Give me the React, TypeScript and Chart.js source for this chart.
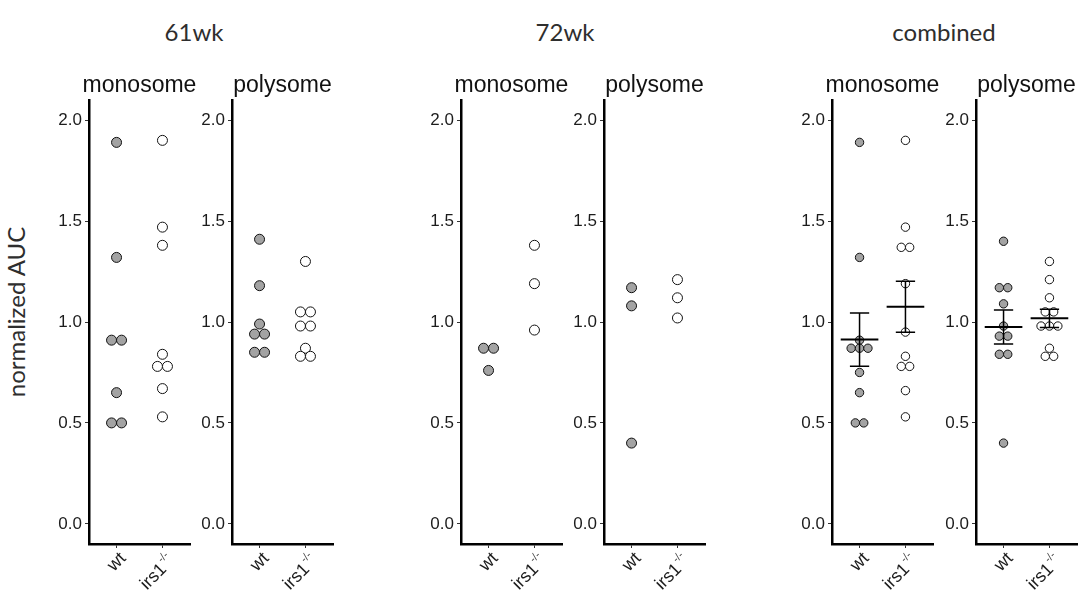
import React, { useEffect, useRef } from "react";
import { Chart, registerables } from "chart.js";

Chart.register(...registerables);

// ---------- data ----------
const groupTitles = ["61wk", "72wk", "combined"];
const fractionTitles = ["monosome", "polysome"];
const categories = ["wt", "irs1"];
const categorySuperscripts = ["", "-/-"];
const yTickValues = [0, 0.5, 1.0, 1.5, 2.0];
const yAxisTitle = "normalized AUC";

const wk61MonoWt = [1.89, 1.32, 0.91, 0.91, 0.65, 0.5, 0.5];
const wk61MonoIrs1 = [1.9, 1.47, 1.38, 0.84, 0.78, 0.78, 0.67, 0.53];
const wk61PolyWt = [1.41, 1.18, 0.99, 0.94, 0.94, 0.85, 0.85];
const wk61PolyIrs1 = [1.3, 1.05, 1.05, 0.98, 0.98, 0.87, 0.83, 0.83];

const wk72MonoWt = [0.87, 0.87, 0.76];
const wk72MonoIrs1 = [1.38, 1.19, 0.96];
const wk72PolyWt = [1.17, 1.08, 0.4];
const wk72PolyIrs1 = [1.21, 1.12, 1.02];

const combMonoWt = [1.89, 1.32, 0.91, 0.87, 0.87, 0.87, 0.75, 0.65, 0.5, 0.5];
const combMonoIrs1 = [1.9, 1.47, 1.37, 1.37, 1.19, 0.95, 0.83, 0.78, 0.78, 0.66, 0.53];
const combPolyWt = [1.4, 1.17, 1.17, 1.09, 0.98, 0.93, 0.93, 0.84, 0.84, 0.4];
const combPolyIrs1 = [1.3, 1.21, 1.12, 1.05, 1.05, 0.98, 0.98, 0.98, 0.87, 0.83, 0.83];

// ---------- layout / style ----------
const X_MIN = 0.4;
const X_MAX = 2.6;
const Y_MIN = -0.1;
const Y_MAX = 2.1;
const PLOT_TOP = 100;
const PLOT_BOTTOM = 544;
const PLOT_W = 101;
const CANVAS_H = 596;
const Y_AXIS_W = 52;
const RIGHT_PAD = 8;
const CANVAS_W = Y_AXIS_W + PLOT_W + RIGHT_PAD;
const ARIAL = '"Liberation Sans", Arial, Helvetica, sans-serif';
const LATO = 'Lato, "Open Sans", sans-serif';
const WT_FILL = "#a3a3a3";
const KO_FILL = "#ffffff";
const INK = "#111111";
const TEXT = "#1c1c1c";
const TITLE_TEXT = "#2e2e2e";

const panelAxisX = [89, 232, 461, 604, 832, 976];
const groupCenterX = [194, 565, 944];

type PanelDef = {
  group: number;
  fraction: number;
  wt: number[];
  ko: number[];
  stats: boolean;
  radius: number;
};

const panels: PanelDef[] = [
  { group: 0, fraction: 0, wt: wk61MonoWt, ko: wk61MonoIrs1, stats: false, radius: 5 },
  { group: 0, fraction: 1, wt: wk61PolyWt, ko: wk61PolyIrs1, stats: false, radius: 5 },
  { group: 1, fraction: 0, wt: wk72MonoWt, ko: wk72MonoIrs1, stats: false, radius: 5 },
  { group: 1, fraction: 1, wt: wk72PolyWt, ko: wk72PolyIrs1, stats: false, radius: 5 },
  { group: 2, fraction: 0, wt: combMonoWt, ko: combMonoIrs1, stats: true, radius: 4.2 },
  { group: 2, fraction: 1, wt: combPolyWt, ko: combPolyIrs1, stats: true, radius: 4.2 },
];

// place equal values side by side, centred on the category (dot-plot layout)
function dodge(values: number[], center: number, step: number) {
  const counts = new Map<number, number>();
  values.forEach((v) => counts.set(v, (counts.get(v) || 0) + 1));
  const seen = new Map<number, number>();
  return values.map((v) => {
    const n = counts.get(v) || 1;
    const k = seen.get(v) || 0;
    seen.set(v, k + 1);
    return { x: center + (k - (n - 1) / 2) * step, y: v };
  });
}

function meanSem(values: number[]) {
  const n = values.length;
  const mean = values.reduce((a, b) => a + b, 0) / n;
  const variance = values.reduce((a, b) => a + (b - mean) * (b - mean), 0) / (n - 1);
  return { mean, sem: Math.sqrt(variance) / Math.sqrt(n) };
}

function Panel({ def, left }: { def: PanelDef; left: number }) {
  const ref = useRef<HTMLCanvasElement | null>(null);

  useEffect(() => {
    if (!ref.current) return;
    const pxPerUnit = PLOT_W / (X_MAX - X_MIN);
    const step = (2 * def.radius) / pxPerUnit;
    const series = [def.wt, def.ko];

    const panelPlugin = {
      id: "panelDecor",
      afterDatasetsDraw(chart: any) {
        if (!def.stats) return;
        const ctx = chart.ctx;
        const xs = chart.scales.x;
        const ys = chart.scales.y;
        ctx.save();
        ctx.strokeStyle = "#000";
        series.forEach((vals, i) => {
          const { mean, sem } = meanSem(vals);
          const c = i + 1;
          const yM = ys.getPixelForValue(mean);
          const yHi = ys.getPixelForValue(mean + sem);
          const yLo = ys.getPixelForValue(mean - sem);
          ctx.lineWidth = 1.5;
          ctx.beginPath();
          ctx.moveTo(xs.getPixelForValue(c), yHi);
          ctx.lineTo(xs.getPixelForValue(c), yLo);
          ctx.moveTo(xs.getPixelForValue(c - 0.21), yHi);
          ctx.lineTo(xs.getPixelForValue(c + 0.21), yHi);
          ctx.moveTo(xs.getPixelForValue(c - 0.21), yLo);
          ctx.lineTo(xs.getPixelForValue(c + 0.21), yLo);
          ctx.stroke();
          ctx.lineWidth = 2;
          ctx.beginPath();
          ctx.moveTo(xs.getPixelForValue(c - 0.41), yM);
          ctx.lineTo(xs.getPixelForValue(c + 0.41), yM);
          ctx.stroke();
        });
        ctx.restore();
      },
      afterDraw(chart: any) {
        const ctx = chart.ctx;
        const area = chart.chartArea;
        const xs = chart.scales.x;
        ctx.save();
        // facet title
        ctx.fillStyle = INK;
        ctx.font = `23px ${ARIAL}`;
        ctx.textAlign = "center";
        ctx.textBaseline = "alphabetic";
        ctx.fillText(fractionTitles[def.fraction], (area.left + area.right) / 2, 92);
        // rotated category labels
        categories.forEach((label, i) => {
          const px = xs.getPixelForValue(i + 1);
          const sup = categorySuperscripts[i];
          ctx.save();
          ctx.translate(px + 1, area.bottom + 6);
          ctx.rotate(-Math.PI / 4);
          ctx.fillStyle = TEXT;
          ctx.font = `18px ${ARIAL}`;
          const wMain = ctx.measureText(label).width;
          ctx.font = `11px ${ARIAL}`;
          const wSup = sup ? ctx.measureText(sup).width + 1 : 0;
          ctx.textAlign = "left";
          ctx.textBaseline = "alphabetic";
          ctx.font = `18px ${ARIAL}`;
          ctx.fillText(label, -wMain - wSup, sup ? 17 : 13);
          if (sup) {
            ctx.fillStyle = "#444";
            ctx.font = `11px ${ARIAL}`;
            ctx.fillText(sup, -wSup + 1, 8);
          }
          ctx.restore();
        });
        ctx.restore();
      },
    };

    const gridOpts = {
      drawOnChartArea: false,
      drawTicks: true,
      tickLength: 4,
      color: "#333",
      lineWidth: 1,
    };

    const chart = new Chart(ref.current, {
      type: "scatter",
      data: {
        datasets: [
          {
            data: dodge(def.wt, 1, step),
            pointRadius: def.radius,
            pointHoverRadius: def.radius,
            backgroundColor: WT_FILL,
            borderColor: INK,
            borderWidth: 1,
          },
          {
            data: dodge(def.ko, 2, step),
            pointRadius: def.radius,
            pointHoverRadius: def.radius,
            backgroundColor: KO_FILL,
            borderColor: INK,
            borderWidth: 1,
          },
        ],
      },
      options: {
        animation: false,
        responsive: false,
        maintainAspectRatio: false,
        events: [],
        layout: { padding: { top: PLOT_TOP, right: RIGHT_PAD, left: 0, bottom: 0 } },
        plugins: {
          legend: { display: false },
          tooltip: { enabled: false },
          title: { display: false },
        },
        scales: {
          x: {
            type: "linear",
            min: X_MIN,
            max: X_MAX,
            afterBuildTicks: (s: any) => {
              s.ticks = categories.map((_, i) => ({ value: i + 1 }));
            },
            afterFit: (s: any) => {
              s.height = CANVAS_H - PLOT_BOTTOM;
              s.paddingLeft = 0;
              s.paddingRight = 0;
              s.paddingTop = 0;
              s.paddingBottom = 0;
            },
            ticks: { callback: () => "", autoSkip: false, maxRotation: 0 },
            grid: gridOpts,
            border: { display: true, color: "#000", width: 2.5 },
          },
          y: {
            type: "linear",
            min: Y_MIN,
            max: Y_MAX,
            afterBuildTicks: (s: any) => {
              s.ticks = yTickValues.map((v) => ({ value: v }));
            },
            afterFit: (s: any) => {
              s.width = Y_AXIS_W;
              s.paddingLeft = 0;
              s.paddingRight = 0;
              s.paddingTop = 0;
              s.paddingBottom = 0;
            },
            ticks: {
              callback: (v: any) => Number(v).toFixed(1),
              font: { family: ARIAL, size: 17 },
              color: TEXT,
              padding: 3,
              autoSkip: false,
            },
            grid: gridOpts,
            border: { display: true, color: "#000", width: 2.5 },
          },
        },
      },
      plugins: [panelPlugin],
    } as any);
    return () => chart.destroy();
  }, [def]);

  return (
    <canvas
      ref={ref}
      width={CANVAS_W}
      height={CANVAS_H}
      style={{
        position: "absolute",
        left: left - Y_AXIS_W,
        top: 0,
        width: CANVAS_W,
        height: CANVAS_H,
      }}
    />
  );
}

export default function App() {
  return (
    <div
      style={{
        position: "fixed",
        left: 0,
        top: 0,
        width: 1082,
        height: 596,
        background: "#fff",
        overflow: "hidden",
      }}
    >
      {groupTitles.map((t, i) => (
        <div
          key={t}
          style={{
            position: "absolute",
            left: groupCenterX[i],
            top: 20,
            transform: "translateX(-50%)",
            font: `400 24px ${LATO}`,
            lineHeight: "24px",
            color: TITLE_TEXT,
            whiteSpace: "nowrap",
          }}
        >
          {t}
        </div>
      ))}
      <div
        style={{
          position: "absolute",
          left: 16,
          top: 312,
          transform: "translate(-50%, -50%) rotate(-90deg)",
          font: `400 24px ${LATO}`,
          lineHeight: "24px",
          color: TITLE_TEXT,
          whiteSpace: "nowrap",
        }}
      >
        {yAxisTitle}
      </div>
      {panels.map((p, i) => (
        <Panel key={i} def={p} left={panelAxisX[i]} />
      ))}
    </div>
  );
}
